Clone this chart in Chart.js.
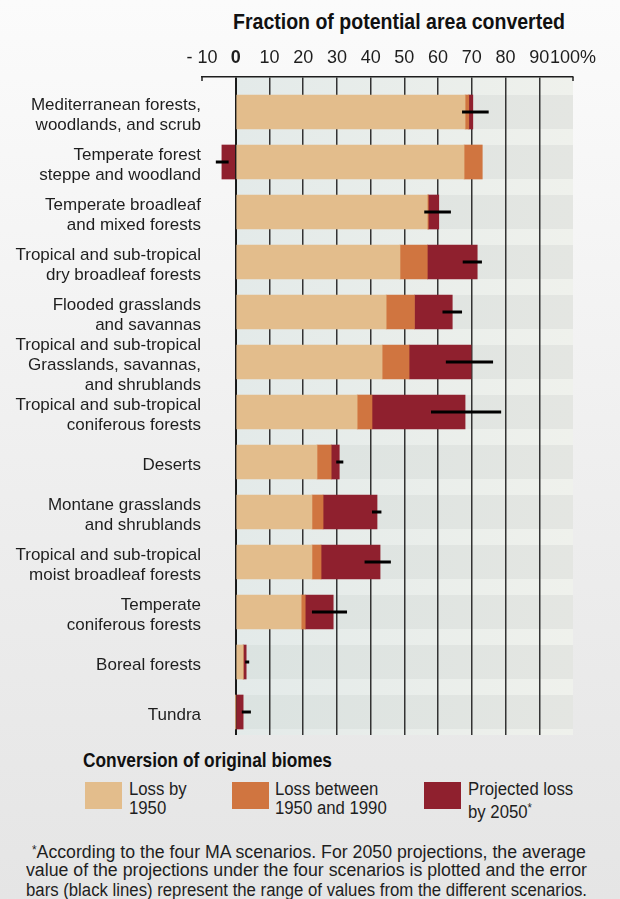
<!DOCTYPE html>
<html lang="en">
<head>
<meta charset="UTF-8">
<title>Conversion of original biomes</title>
<script src="https://cdn.jsdelivr.net/npm/chart.js"></script>
<style>
    html, body { margin: 0; padding: 0; }
    body {
        width: 620px;
        height: 899px;
        position: relative;
        overflow: hidden;
        background: linear-gradient(to bottom, #fbfbfb 0%, #eeeeee 55%, #e5e5e5 100%);
        font-family: 'Liberation Sans', Arial, sans-serif;
        color: #1e1e1e;
    }
    #chartBox { position: absolute; left: 0; top: 0; width: 620px; height: 740px; }
    .fit { display: inline-block; white-space: nowrap; transform-origin: 0 0; }
    #axisTitle { position: absolute; left: 233px; top: 8px; font-weight: bold; font-size: 22px; line-height: 28px; color: #111; }
    #legendTitle { position: absolute; left: 83px; top: 747px; font-weight: bold; font-size: 21px; line-height: 26px; color: #111; }
    .swatch { position: absolute; top: 782px; width: 37px; height: 27px; }
    .key { position: absolute; top: 780px; font-size: 18px; line-height: 19px; white-space: nowrap; transform: scaleX(0.93); transform-origin: 0 0; }
    .note { position: absolute; font-size: 18px; line-height: 20px; }
</style>
</head>
<body>
<span id="axisTitle" class="fit" data-w="332">Fraction of potential area converted</span>
<div id="chartBox"><canvas id="biomeChart"></canvas></div>

<span id="legendTitle" class="fit" data-w="249">Conversion of original biomes</span>
<div class="swatch" style="left:85px;background:#e3bd8c"></div>
<div class="key" style="left:129px">Loss by<br>1950</div>
<div class="swatch" style="left:232px;background:#d07540"></div>
<div class="key" style="left:275px">Loss between<br>1950 and 1990</div>
<div class="swatch" style="left:424px;background:#8f202e"></div>
<div class="key" style="left:468px">Projected loss<br>by 2050<sup style="font-size:12px;vertical-align:6px">*</sup></div>

<span class="note fit" data-w="554" style="left:32px;top:840px"><sup style="font-size:12px;vertical-align:4px">*</sup>According to the four MA scenarios. For 2050 projections, the average</span>
<span class="note fit" data-w="561" style="left:26px;top:860px">value of the projections under the four scenarios is plotted and the error</span>
<span class="note fit" data-w="561" style="left:26px;top:880px">bars (black lines) represent the range of values from the different scenarios.</span>

<script>
const biomes = [
    ['Mediterranean forests,', 'woodlands, and scrub'],
    ['Temperate forest', 'steppe and woodland'],
    ['Temperate broadleaf', 'and mixed forests'],
    ['Tropical and sub-tropical', 'dry broadleaf forests'],
    ['Flooded grasslands', 'and savannas'],
    ['Tropical and sub-tropical', 'Grasslands, savannas,', 'and shrublands'],
    ['Tropical and sub-tropical', 'coniferous forests'],
    'Deserts',
    ['Montane grasslands', 'and shrublands'],
    ['Tropical and sub-tropical', 'moist broadleaf forests'],
    ['Temperate', 'coniferous forests'],
    'Boreal forests',
    'Tundra'
];

// % of potential area, one segment per period
const lossBy1950      = [68.0, 67.7, 56.8, 48.7, 44.6, 43.4, 36.0, 24.1, 22.6, 22.6, 19.4, 2.2, 0];
const loss1950to1990  = [1.1, 5.4, 0.3, 8.1, 8.4, 8.0, 4.4, 4.2, 3.3, 2.7, 1.2, 0, 0];
const projected2050   = [1.2, -4.1, 3.1, 14.8, 11.2, 18.4, 27.6, 2.4, 16.0, 17.5, 8.3, 0.9, 2.2];

// range of the four scenarios for 2050
const scenarioLow  = [67.1, -5.9, 55.9, 67.3, 61.3, 62.3, 57.9, 29.8, 40.4, 38.2, 22.6, 2.8, 1.8];
const scenarioHigh = [75.0, -2.1, 63.8, 73.0, 67.1, 76.3, 78.7, 31.9, 43.2, 46.0, 33.0, 4.0, 4.5];

const xTicks = [-10, 0, 10, 20, 30, 40, 50, 60, 70, 80, 90, 100];

const FONT = "'Liberation Sans', Arial, sans-serif";
const barSize = 34;

// squeeze the html text blocks to the narrow width of the typeface used in print
document.querySelectorAll('.fit').forEach(el => {
    const w = el.getBoundingClientRect().width;
    el.style.transform = 'scaleX(' + (Number(el.dataset.w) / w).toFixed(4) + ')';
});

const toPoints = arr => arr.map((v, i) => ({ x: v, y: i }));

// shaded rows behind the bars
const bandPlugin = {
    id: 'bands',
    beforeDraw(chart) {
        const { ctx, chartArea: a, scales: { x, y } } = chart;
        const x0 = x.getPixelForValue(0);
        const x1 = x.getPixelForValue(100);
        ctx.save();
        const light = ctx.createLinearGradient(x0, 0, x1, 0);
        light.addColorStop(0, '#e3eae9');
        light.addColorStop(1, '#eff1ec');
        ctx.fillStyle = light;
        ctx.fillRect(x0, a.top, x1 - x0, a.bottom - a.top);
        const dark = ctx.createLinearGradient(x0, 0, x1, 0);
        dark.addColorStop(0, '#dbe3e1');
        dark.addColorStop(1, '#e4e6e2');
        ctx.fillStyle = dark;
        biomes.forEach((_, i) => {
            const c = y.getPixelForValue(i);
            ctx.fillRect(x0, c - barSize / 2, x1 - x0, barSize);
        });
        ctx.restore();
    },
    afterDraw(chart) {
        // short end ticks at -10 and 100
        const { ctx, chartArea: a, scales: { x } } = chart;
        ctx.save();
        ctx.strokeStyle = '#222';
        ctx.lineWidth = 1.5;
        [-10, 100].forEach(v => {
            const px = x.getPixelForValue(v);
            ctx.beginPath();
            ctx.moveTo(px, a.top);
            ctx.lineTo(px, a.top + 4);
            ctx.stroke();
        });
        ctx.restore();
    }
};

// scenario range lines
const rangePlugin = {
    id: 'scenarioRange',
    afterDatasetsDraw(chart) {
        const { ctx, scales: { x, y } } = chart;
        ctx.save();
        ctx.strokeStyle = '#000';
        ctx.lineWidth = 3;
        scenarioLow.forEach((lo, i) => {
            const c = y.getPixelForValue(i);
            ctx.beginPath();
            ctx.moveTo(x.getPixelForValue(lo), c);
            ctx.lineTo(x.getPixelForValue(scenarioHigh[i]), c);
            ctx.stroke();
        });
        ctx.restore();
    }
};

new Chart(document.getElementById('biomeChart'), {
    type: 'bar',
    data: {
        datasets: [
            { label: 'Loss by 1950', data: toPoints(lossBy1950), backgroundColor: '#e3bd8c' },
            { label: 'Loss between 1950 and 1990', data: toPoints(loss1950to1990), backgroundColor: '#d07540' },
            { label: 'Projected loss by 2050', data: toPoints(projected2050), backgroundColor: '#8f202e' }
        ]
    },
    options: {
        indexAxis: 'y',
        responsive: true,
        maintainAspectRatio: false,
        animation: false,
        barThickness: barSize,
        borderSkipped: false,
        layout: { padding: { left: 0, right: 47, top: 0, bottom: 5 } },
        plugins: { legend: { display: false }, tooltip: { enabled: false } },
        scales: {
            x: {
                type: 'linear',
                position: 'top',
                min: -10,
                max: 100,
                stacked: true,
                afterBuildTicks: s => { s.ticks = xTicks.map(v => ({ value: v })); },
                afterFit: s => { s.height = 77; },
                ticks: {
                    padding: 8,
                    color: '#1e1e1e',
                    autoSkip: false,
                    maxRotation: 0,
                    font: ctx => ({ family: FONT, size: 18, weight: ctx.tick && ctx.tick.value === 0 ? 'bold' : 'normal' }),
                    callback: v => v === -10 ? '- 10' : v === 100 ? '100%' : String(v)
                },
                grid: {
                    drawTicks: false,
                    color: ctx => {
                        const v = ctx.tick ? ctx.tick.value : null;
                        if (v === -10 || v === 100) return 'rgba(0,0,0,0)';
                        return v === 0 ? '#1a1a1a' : '#333';
                    },
                    lineWidth: ctx => (ctx.tick && ctx.tick.value === 0 ? 2 : 1.5)
                },
                border: { display: true, color: '#1e1e1e', width: 1.5 }
            },
            y: {
                type: 'linear',
                reverse: true,
                offset: false,
                min: -0.7,
                max: 12.46,
                stacked: true,
                afterBuildTicks: s => { s.ticks = biomes.map((_, i) => ({ value: i })); },
                afterFit: s => {
                    s.width = 202;
                    // rows sit inside the range, labels need no extra room at the ends
                    s.paddingTop = 0;
                    s.paddingBottom = 0;
                },
                ticks: {
                    autoSkip: false,
                    padding: 1,
                    labelOffset: 3,
                    color: '#1e1e1e',
                    font: { family: FONT, size: 17, lineHeight: 1.18 },
                    callback: v => biomes[v]
                },
                grid: { display: false, drawTicks: false, offset: false },
                border: { display: false }
            }
        }
    },
    plugins: [bandPlugin, rangePlugin]
});
</script>
</body>
</html>
